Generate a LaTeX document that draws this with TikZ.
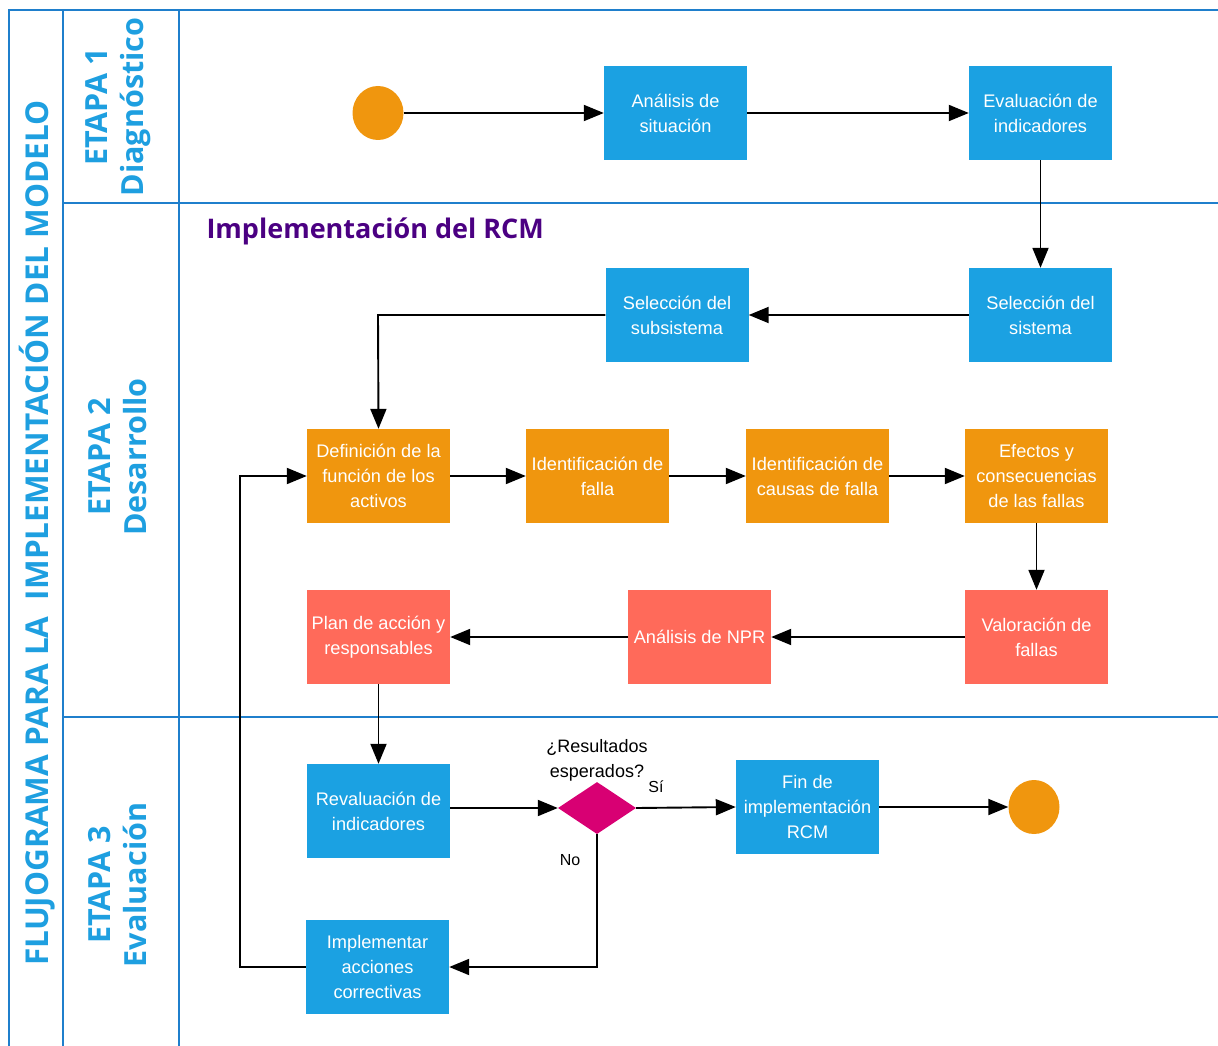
\documentclass[tikz,border=0pt]{standalone}
\usepackage{fontspec}
\setmainfont{Liberation Sans}
\newfontfamily\headfont{Open Sans}
\usetikzlibrary{arrows.meta,shapes.geometric}
\definecolor{laneblue}{HTML}{1F7FCC}
\definecolor{headblue}{HTML}{1E9FE0}
\definecolor{boxblue}{HTML}{1BA1E2}
\definecolor{boxorange}{HTML}{F0960E}
\definecolor{boxred}{HTML}{FF6A5A}
\definecolor{decmag}{HTML}{D80073}
\definecolor{titlepurple}{HTML}{4B0082}
\begin{document}
\begin{tikzpicture}[x=1pt,y=-1pt,
  lane/.style={draw=laneblue,line width=1.8pt},
  proc/.style={rectangle,minimum width=143pt,minimum height=94pt,inner sep=0pt,
    align=center,text=white,font=\fontsize{18.2}{25}\selectfont},
  bluebox/.style={proc,fill=boxblue},
  orangebox/.style={proc,fill=boxorange},
  redbox/.style={proc,fill=boxred},
  term/.style={ellipse,fill=boxorange,minimum width=51pt,minimum height=54pt,inner sep=0pt},
  decision/.style={diamond,fill=decmag,minimum width=78pt,minimum height=52pt,inner sep=0pt,aspect=1.5},
  flow/.style={draw=black,line width=1.9pt,-{Triangle[length=20pt,width=16pt]}},
  stagehead/.style={font=\headfont\bfseries\fontsize{30.5}{36}\selectfont,text=headblue,align=center,rotate=90},
  smalltxt/.style={font=\fontsize{18}{25}\selectfont,align=center}
]
\useasboundingbox (0,0) rectangle (1218,1046);

% swimlane frame
\draw[lane] (9,1046) -- (9,10) -- (1218,10);
\draw[lane] (63,10) -- (63,1046);
\draw[lane] (179,10) -- (179,1046);
\draw[lane] (63,203) -- (1218,203);
\draw[lane] (63,717) -- (1218,717);

% lane headings
\node[stagehead,font=\headfont\bfseries\fontsize{31.5}{36}\selectfont] (title) at (37,533) {FLUJOGRAMA PARA LA\ \ IMPLEMENTACIÓN DEL MODELO};
\node[stagehead] (st1) at (118,107) {ETAPA 1\\Diagnóstico};
\node[stagehead] (st2) at (118,457) {ETAPA 2\\Desarrollo};
\node[stagehead] (st3) at (118,885) {ETAPA 3\\Evaluación};

\node[anchor=west,text=titlepurple,font=\headfont\bfseries\fontsize{27}{32}\selectfont] (rcm) at (203,231) {Implementación del RCM};

% stage 1
\node[term] (start) at (378,113) {};
\node[bluebox] (analisis) at (675.5,113) {Análisis de\\situación};
\node[bluebox] (evalind) at (1040.5,113) {Evaluación de\\indicadores};

% stage 2
\node[bluebox] (sistema) at (1040.5,315) {Selección del\\sistema};
\node[bluebox] (subsis) at (677,315) {Selección del\\subsistema};
\node[orangebox] (funcion) at (378.5,476) {Definición de la\\función de los\\activos};
\node[orangebox] (idfalla) at (597.5,476) {Identificación de\\falla};
\node[orangebox] (causas) at (817.5,476) {Identificación de\\causas de falla};
\node[orangebox] (efectos) at (1036.5,476) {Efectos y\\consecuencias\\de las fallas};
\node[redbox] (valora) at (1036.5,637) {Valoración de\\fallas};
\node[redbox] (npr) at (699.5,637) {Análisis de NPR};
\node[redbox] (plan) at (378.5,637) {Plan de acción y\\responsables};

% stage 3
\node[bluebox] (reval) at (378.5,811) {Revaluación de\\indicadores};
\node[decision] (dec) at (597,808) {};
\node[smalltxt,anchor=south] (question) at (597,785) {¿Resultados\\esperados?};
\node[bluebox] (fin) at (807.5,807) {Fin de\\implementación\\RCM};
\node[term] (finish) at (1034,807) {};
\node[bluebox] (correct) at (377.5,967) {Implementar\\acciones\\correctivas};
\node[font=\fontsize{16}{18}\selectfont] (si) at (656,787) {Sí};
\node[font=\fontsize{16}{18}\selectfont] (no) at (570,860) {No};
\coordinate (turn1) at (378,315);
\coordinate (turn2) at (597,967);
\coordinate (turn3) at (240,967);
\coordinate (turn4) at (240,476);

% connectors
\draw[flow] (start) -- (analisis);
\draw[flow] (analisis) -- (evalind);
\draw[flow] (evalind) -- (sistema);
\draw[flow] (sistema) -- (subsis);
\draw[flow] (subsis.west) -- (turn1) -- (funcion.north);
\draw[flow] (funcion) -- (idfalla);
\draw[flow] (idfalla) -- (causas);
\draw[flow] (causas) -- (efectos);
\draw[flow] (efectos) -- (valora);
\draw[flow] (valora) -- (npr);
\draw[flow] (npr) -- (plan);
\draw[flow] (plan) -- (plan.south |- reval.north);
\draw[flow] (reval.east |- dec.west) -- (dec.west);
\draw[flow] (dec.east) -- (fin.west);
\draw[flow] (fin) -- (finish);
\draw[flow] (dec.south) -- (turn2) -- (correct.east);
\draw[flow] (correct.west) -- (turn3) -- (turn4) -- (funcion.west);
\end{tikzpicture}
\end{document}
